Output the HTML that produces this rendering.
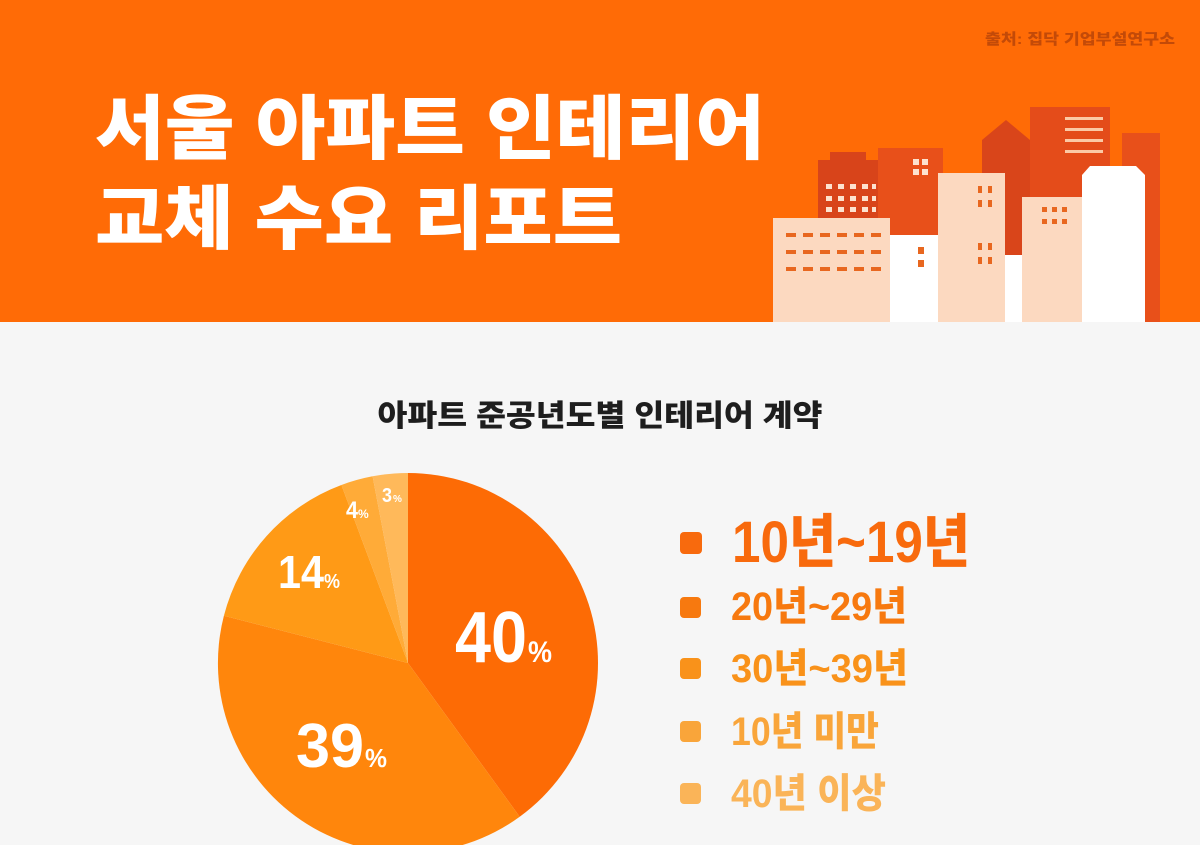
<!DOCTYPE html>
<html><head><meta charset="utf-8"><style>
html,body{margin:0;padding:0;width:1200px;height:845px;overflow:hidden;background:#f6f6f6}
svg{display:block}
text{font-family:"Liberation Sans","Noto Sans CJK KR",sans-serif;font-weight:900}
</style></head><body>
<svg width="1200" height="845" viewBox="0 0 1200 845" xmlns="http://www.w3.org/2000/svg">
<rect x="0" y="0" width="1200" height="845" fill="#f6f6f6"/>
<rect x="0" y="0" width="1200" height="322" fill="#ff6b06"/>
<text x="1175" y="44" font-size="15" fill="#c34a08" text-anchor="end" font-weight="400" textLength="190" lengthAdjust="spacingAndGlyphs">출처: 집닥 기업부설연구소</text>
<text x="95" y="153" font-size="70" fill="#fff" textLength="670" lengthAdjust="spacingAndGlyphs">서울 아파트 인테리어</text>
<text x="95" y="243" font-size="70" fill="#fff" textLength="527" lengthAdjust="spacingAndGlyphs">교체 수요 리포트</text>
<!-- buildings -->
<rect x="1122" y="133" width="38" height="189" fill="#e8501a"/>
<rect x="1030" y="107" width="80" height="110" fill="#e44c1a"/>
<g fill="#fbc9a6"><rect x="1065" y="117" width="38" height="3"/><rect x="1065" y="128" width="38" height="3"/><rect x="1065" y="139" width="38" height="3"/><rect x="1065" y="150" width="38" height="3"/></g>
<polygon points="982,140 1006,120 1030,140 1030,322 982,322" fill="#d9451a"/>
<rect x="878" y="148" width="65" height="110" fill="#e8501a"/>
<g fill="#fde2cf"><rect x="913" y="159" width="6" height="6"/><rect x="922" y="159" width="6" height="6"/><rect x="913" y="169" width="6" height="6"/><rect x="922" y="169" width="6" height="6"/></g>
<rect x="818" y="160" width="60" height="70" fill="#d8441a"/>
<rect x="830" y="152" width="36" height="10" fill="#d8441a"/>
<g fill="#fde2cf">
<rect x="826" y="184" width="6" height="5"/><rect x="838" y="184" width="6" height="5"/><rect x="850" y="184" width="6" height="5"/><rect x="862" y="184" width="6" height="5"/><rect x="872" y="184" width="4" height="5"/>
<rect x="826" y="196" width="6" height="5"/><rect x="838" y="196" width="6" height="5"/><rect x="850" y="196" width="6" height="5"/><rect x="862" y="196" width="6" height="5"/><rect x="872" y="196" width="4" height="5"/>
<rect x="826" y="207" width="6" height="5"/><rect x="838" y="207" width="6" height="5"/><rect x="850" y="207" width="6" height="5"/><rect x="862" y="207" width="6" height="5"/><rect x="872" y="207" width="4" height="5"/>
</g>
<rect x="890" y="235" width="48" height="87" fill="#ffffff"/>
<rect x="773" y="218" width="117" height="104" fill="#fcd9c0"/>
<g fill="#e8671f">
<rect x="786" y="233" width="10" height="4"/><rect x="803" y="233" width="10" height="4"/><rect x="820" y="233" width="10" height="4"/><rect x="837" y="233" width="10" height="4"/><rect x="854" y="233" width="10" height="4"/><rect x="871" y="233" width="10" height="4"/>
<rect x="786" y="250" width="10" height="4"/><rect x="803" y="250" width="10" height="4"/><rect x="820" y="250" width="10" height="4"/><rect x="837" y="250" width="10" height="4"/><rect x="854" y="250" width="10" height="4"/><rect x="871" y="250" width="10" height="4"/>
<rect x="786" y="267" width="10" height="4"/><rect x="803" y="267" width="10" height="4"/><rect x="820" y="267" width="10" height="4"/><rect x="837" y="267" width="10" height="4"/><rect x="854" y="267" width="10" height="4"/><rect x="871" y="267" width="10" height="4"/>
<rect x="918" y="247" width="6" height="7"/><rect x="918" y="260" width="6" height="7"/>
</g>
<rect x="938" y="173" width="67" height="149" fill="#fcd9c0"/>
<g fill="#e8671f">
<rect x="978" y="186" width="4" height="7"/><rect x="988" y="186" width="4" height="7"/><rect x="978" y="200" width="4" height="7"/><rect x="988" y="200" width="4" height="7"/>
<rect x="978" y="243" width="4" height="7"/><rect x="988" y="243" width="4" height="7"/><rect x="978" y="257" width="4" height="7"/><rect x="988" y="257" width="4" height="7"/>
</g>
<rect x="1005" y="255" width="17" height="67" fill="#ffffff"/>
<rect x="1022" y="197" width="60" height="125" fill="#fcd9c0"/>
<g fill="#e8671f"><rect x="1042" y="207" width="5" height="5"/><rect x="1052" y="207" width="5" height="5"/><rect x="1062" y="207" width="5" height="5"/><rect x="1042" y="219" width="5" height="5"/><rect x="1052" y="219" width="5" height="5"/><rect x="1062" y="219" width="5" height="5"/></g>
<polygon points="1082,175 1090,166 1136,166 1145,175 1145,322 1082,322" fill="#ffffff"/>
<!-- subtitle -->
<text x="600" y="426" font-size="30" fill="#1e1e1e" text-anchor="middle" textLength="445" lengthAdjust="spacingAndGlyphs">아파트 준공년도별 인테리어 계약</text>
<!-- pie -->
<g>
<path d="M408,663 L408,473 A190,190 0 0 1 519.7,816.7 Z" fill="#fd6b05"/>
<path d="M408,663 L519.7,816.7 A190,190 0 0 1 223.9,615.8 Z" fill="#ff860c"/>
<path d="M408,663 L223.9,615.8 A190,190 0 0 1 341.4,485.0 Z" fill="#ff9a16"/>
<path d="M408,663 L341.4,485.0 A190,190 0 0 1 372.6,476.3 Z" fill="#ffab38"/>
<path d="M408,663 L372.6,476.3 A190,190 0 0 1 408,473 Z" fill="#ffb95a"/>
</g>
<g fill="#fff">
<text x="455" y="662" font-size="72" textLength="72" lengthAdjust="spacingAndGlyphs">40</text><text x="528" y="662" font-size="30" textLength="24" lengthAdjust="spacingAndGlyphs">%</text>
<text x="296" y="767" font-size="62" textLength="68" lengthAdjust="spacingAndGlyphs">39</text><text x="365" y="767" font-size="26" textLength="22" lengthAdjust="spacingAndGlyphs">%</text>
<text x="278" y="588" font-size="46" textLength="46" lengthAdjust="spacingAndGlyphs">14</text><text x="324" y="588" font-size="20" textLength="16" lengthAdjust="spacingAndGlyphs">%</text>
<text x="346" y="518" font-size="24" textLength="12" lengthAdjust="spacingAndGlyphs">4</text><text x="358" y="518" font-size="12">%</text>
<text x="382" y="502" font-size="20" textLength="10" lengthAdjust="spacingAndGlyphs">3</text><text x="393" y="502" font-size="10">%</text>
</g>
<!-- legend -->
<rect x="680" y="532" width="22" height="22" rx="4" fill="#f86a0d"/>
<text x="732" y="562" font-size="58" fill="#f86a0d" textLength="238" lengthAdjust="spacingAndGlyphs">10년~19년</text>
<rect x="680" y="597" width="21" height="21" rx="4" fill="#f7790f"/>
<text x="731" y="620" font-size="40" fill="#f7790f" textLength="176" lengthAdjust="spacingAndGlyphs">20년~29년</text>
<rect x="680" y="658" width="21" height="21" rx="4" fill="#f9921a"/>
<text x="731" y="682" font-size="40" fill="#f9921a" textLength="177" lengthAdjust="spacingAndGlyphs">30년~39년</text>
<rect x="680" y="721" width="21" height="21" rx="4" fill="#f9a53a"/>
<text x="731" y="745" font-size="40" fill="#f9a53a" textLength="148" lengthAdjust="spacingAndGlyphs">10년 미만</text>
<rect x="680" y="783" width="21" height="21" rx="4" fill="#fab458"/>
<text x="731" y="807" font-size="40" fill="#fab458" textLength="155" lengthAdjust="spacingAndGlyphs">40년 이상</text>
</svg>
</body></html>
